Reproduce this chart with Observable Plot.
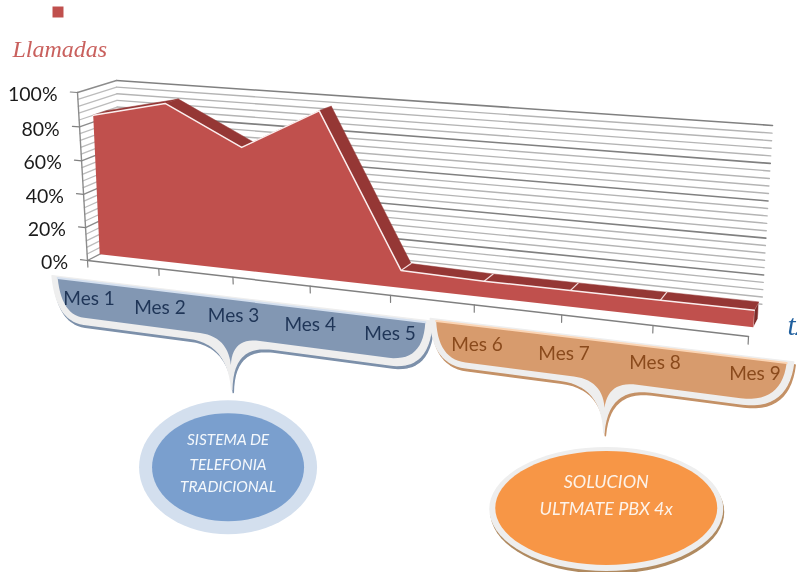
<!DOCTYPE html>
<html><head><meta charset="utf-8">
<script src="https://cdn.jsdelivr.net/npm/d3@7"></script>
<script src="https://cdn.jsdelivr.net/npm/@observablehq/plot@0.6"></script>
<style>html,body{margin:0;padding:0;background:#fff;overflow:hidden}svg{display:block}</style>
</head><body><div id="chart"></div>
<script>
const months = [1,2,3,4,5,6,7,8,9];
const monthLabels = ["Mes 1","Mes 2","Mes 3","Mes 4","Mes 5","Mes 6","Mes 7","Mes 8","Mes 9"];
const llamadas = [84,94,72,96,10,9,9,9,9];
const pctMajor = [0,20,40,60,80,100];
const pctMinor = [4,8,12,16,24,28,32,36,44,48,52,56,64,68,72,76,84,88,92,96];
const seriesName = "Llamadas";
const axisTitle = "tx";
const groupBlue = ["SISTEMA DE","TELEFONIA","TRADICIONAL"];
const groupOrange = ["SOLUCION","ULTMATE PBX 4x"];

// camera: the four corners of the front and back planes of the 3D box
const frontPlane = [[87,260],[748,336],[758,139],[77,92]];
const backPlane  = [[120,243],[761,311],[772,125],[116,80]];
const areaFront = 0.37, areaBack = 0.72;

function homography([[x0,y0],[x1,y1],[x2,y2],[x3,y3]]){
  const dx1=x1-x2,dx2=x3-x2,sx=x0-x1+x2-x3,dy1=y1-y2,dy2=y3-y2,sy=y0-y1+y2-y3;
  const den=dx1*dy2-dx2*dy1, g=(sx*dy2-dx2*sy)/den, h=(dx1*sy-sx*dy1)/den;
  const a=x1-x0+g*x1,b=x3-x0+h*x3,d=y1-y0+g*y1,e=y3-y0+h*y3;
  return (u,t)=>{const w=g*u+h*t+1;return [(a*u+b*t+x0)/w,(d*u+e*t+y0)/w];};
}
const hF=homography(frontPlane), hB=homography(backPlane);
function P(m,v,depth=0){
  const u=(m-1)/8,t=v/100,f=hF(u,t),b=hB(u,t);
  return [f[0]+(b[0]-f[0])*depth,f[1]+(b[1]-f[1])*depth];
}
function seg(p0,c,p1,n=14){
  const o=[];
  for(let i=1;i<=n;i++){const s=i/n,r=1-s;
    o.push([r*r*p0[0]+2*r*s*c[0]+s*s*p1[0],r*r*p0[1]+2*r*s*c[1]+s*s*p1[1]]);}
  return o;
}
function brace(m0,m1,tip,vT,vB,vTip,cr=.45,cl=.35,tw=.4){
  const pts=[P(m0,vT),P(m1,vT)];
  pts.push(...seg(P(m1,vT),P(m1-.03,vB),P(m1-cr,vB)));
  pts.push(P(tip+tw,vB));
  pts.push(...seg(P(tip+tw,vB),P(tip+.03,vB),P(tip,vTip)));
  pts.push(...seg(P(tip,vTip),P(tip-.03,vB),P(tip-tw,vB)));
  pts.push(P(m0+cl,vB));
  pts.push(...seg(P(m0+cl,vB),P(m0+.02,vB),P(m0,vT)));
  return pts;
}
function ellipse(cx,cy,rx,ry){
  return d3.range(0,72).map(i=>[cx+rx*Math.cos(i/72*2*Math.PI),cy+ry*Math.sin(i/72*2*Math.PI)]);
}
const xy={x:d=>d[0],y:d=>d[1]};
const closed=(pts,o)=>Plot.line(pts,{...xy,curve:"linear-closed",...o});
const sans="Lato, 'Open Sans', sans-serif";

const wallBack=v=>[P(1,v,1),P(9,v,1)];
const wallSide=v=>[P(1,v,0),P(1,v,1)];
const front=[P(1,0,areaFront),...months.map((m,i)=>P(m,llamadas[i],areaFront)),P(9,0,areaFront)];
const quads=months.slice(0,-1).flatMap((m,i)=>[
  [...P(m,llamadas[i],areaFront),i],[...P(months[i+1],llamadas[i+1],areaFront),i],
  [...P(months[i+1],llamadas[i+1],areaBack),i],[...P(m,llamadas[i],areaBack),i]]);
const endCap=[P(9,0,areaFront),P(9,llamadas[8],areaFront),P(9,llamadas[8],areaBack),P(9,0,areaBack)];
const joints=[5,6,7,8].map(m=>[P(m,llamadas[m-1],areaFront),P(m,llamadas[m-1],areaBack)]);

const bInner=brace(.55,5.42,2.93,-13,-36,-53);
const bOuter=brace(.47,5.5,2.93,-12,-40,-68,.5,.42,.55);
const oInner=brace(5.55,9.4,7.5,-11.5,-33,-48,.45,.35,.35);
const oOuter=brace(5.48,9.47,7.5,-10.5,-36,-62,.5,.42,.5);
const [bx,by]=P(2.84,-117), [ox,oy]=P(7.55,-105);

// where each month label hangs below the axis
const labelAt=m=>m<=5?P(m-.01,-24.5+.5*m):P(m+(m===9?.085:.035),-22+(m-6));

const marks=[
  // legend + title
  Plot.dot([[57.5,11.5]],{...xy,symbol:"square",r:6.2,fill:"#c0504d"}),
  Plot.text([seriesName],{x:()=>12,y:()=>50,text:d=>d,textAnchor:"start",fontFamily:"'Liberation Serif',serif",fontStyle:"italic",fontSize:24,fill:"#c9605d",lineAnchor:"bottom",dy:6}),
  Plot.text([axisTitle],{x:()=>787,y:()=>328,text:d=>d,textAnchor:"start",fontFamily:"'Liberation Serif',serif",fontStyle:"italic",fontSize:29,fill:"#1f5f9e",lineAnchor:"bottom",dy:6}),
  // gridlines
  ...pctMinor.map(v=>Plot.line(wallBack(v),{...xy,stroke:"#b4b4b4",strokeWidth:1.4})),
  ...pctMinor.map(v=>Plot.line(wallSide(v),{...xy,stroke:"#bcbcbc",strokeWidth:1.3})),
  ...pctMajor.filter(v=>v>0).map(v=>Plot.line(wallBack(v),{...xy,stroke:"#808080",strokeWidth:1.6})),
  ...pctMajor.map(v=>Plot.line(wallSide(v),{...xy,stroke:"#8c8c8c",strokeWidth:1.4})),
  // axes
  Plot.line([P(1,0),P(1,100)],{...xy,stroke:"#8c8c8c",strokeWidth:1.4}),
  Plot.line([P(1,0),P(9,0)],{...xy,stroke:"#808080",strokeWidth:1.5}),
  ...months.map(m=>Plot.line([P(m,0),P(m,-4)],{...xy,stroke:"#808080",strokeWidth:1.2})),
  ...pctMajor.map(v=>Plot.line([P(1,v),P(.9,v)],{...xy,stroke:"#808080",strokeWidth:1.2})),
  Plot.text(pctMajor,{x:v=>P(.72,v)[0],y:v=>P(.72,v)[1],text:v=>v+"%",textAnchor:"end",fontFamily:sans,fontSize:19.5,fill:"#1a1a1a",dy:4}),
  // area
  closed(endCap,{fill:"#7d2c2a",stroke:"#fff",strokeWidth:.5}),
  Plot.line(quads,{x:d=>d[0],y:d=>d[1],z:d=>d[2],curve:"linear-closed",fill:"#953735",stroke:"#953735",strokeWidth:.5}),
  ...joints.map(j=>Plot.line(j,{...xy,stroke:"#f3dcdc",strokeWidth:1.2})),
  closed(front,{fill:"#c0504d",stroke:"none"}),
  Plot.line(front.slice(1,-1),{...xy,stroke:"#fbeeee",strokeWidth:1.5}),
  // blue callout
  closed(bOuter,{fill:"#7c90aa",stroke:"#7c90aa",strokeWidth:1.5,dx:1.5,dy:3}),
  closed(bOuter,{fill:"#eeeeee",stroke:"#eeeeee",strokeWidth:1.5}),
  closed(bInner,{fill:"#8297b3"}),
  Plot.line([P(.55,-13),P(5.42,-13)],{...xy,stroke:"#d5e0ef",strokeWidth:2}),
  closed(ellipse(bx,by,89,67),{fill:"#d3dfee"}),
  closed(ellipse(bx,by,76,54),{fill:"#7a9fce"}),
  Plot.text(groupBlue,{x:()=>bx,y:(d,i)=>by+[-27,-2,20][i],text:d=>d,fontFamily:sans,fontStyle:"italic",fontSize:15.5,fill:"#f4f8fc"}),
  // orange callout
  closed(oOuter,{fill:"#c49166",stroke:"#c49166",strokeWidth:1.5,dx:1.5,dy:3}),
  closed(oOuter,{fill:"#eeeeee",stroke:"#eeeeee",strokeWidth:1.5}),
  closed(oInner,{fill:"#d79b6d"}),
  Plot.line([P(5.55,-11.5),P(9.4,-11.5)],{...xy,stroke:"#fbd5b5",strokeWidth:2}),
  closed(ellipse(ox+1,oy+3,117,62),{fill:"#b08a60"}),
  closed(ellipse(ox,oy,117,62),{fill:"#eeeeee"}),
  closed(ellipse(ox,oy-1,111,57),{fill:"#f79646"}),
  Plot.text(groupOrange,{x:()=>ox,y:(d,i)=>oy+[-27,0][i],text:d=>d,fontFamily:sans,fontStyle:"italic",fontSize:18,fill:"#fdf3ea"}),
  // month labels
  Plot.text(months,{x:m=>labelAt(m)[0],y:m=>labelAt(m)[1],text:(m,i)=>monthLabels[i],fontFamily:sans,fontSize:19,
    fill:m=>m<=5?"#1f3557":"#8a4a1c"})
];
const chart=Plot.plot({width:797,height:572,margin:0,
  x:{domain:[0,797],range:[0,797],axis:null},
  y:{domain:[0,572],range:[0,572],axis:null},
  style:{background:"#fff",filter:"blur(0.35px)"},
  marks});
document.getElementById("chart").append(chart);
</script></body></html>
